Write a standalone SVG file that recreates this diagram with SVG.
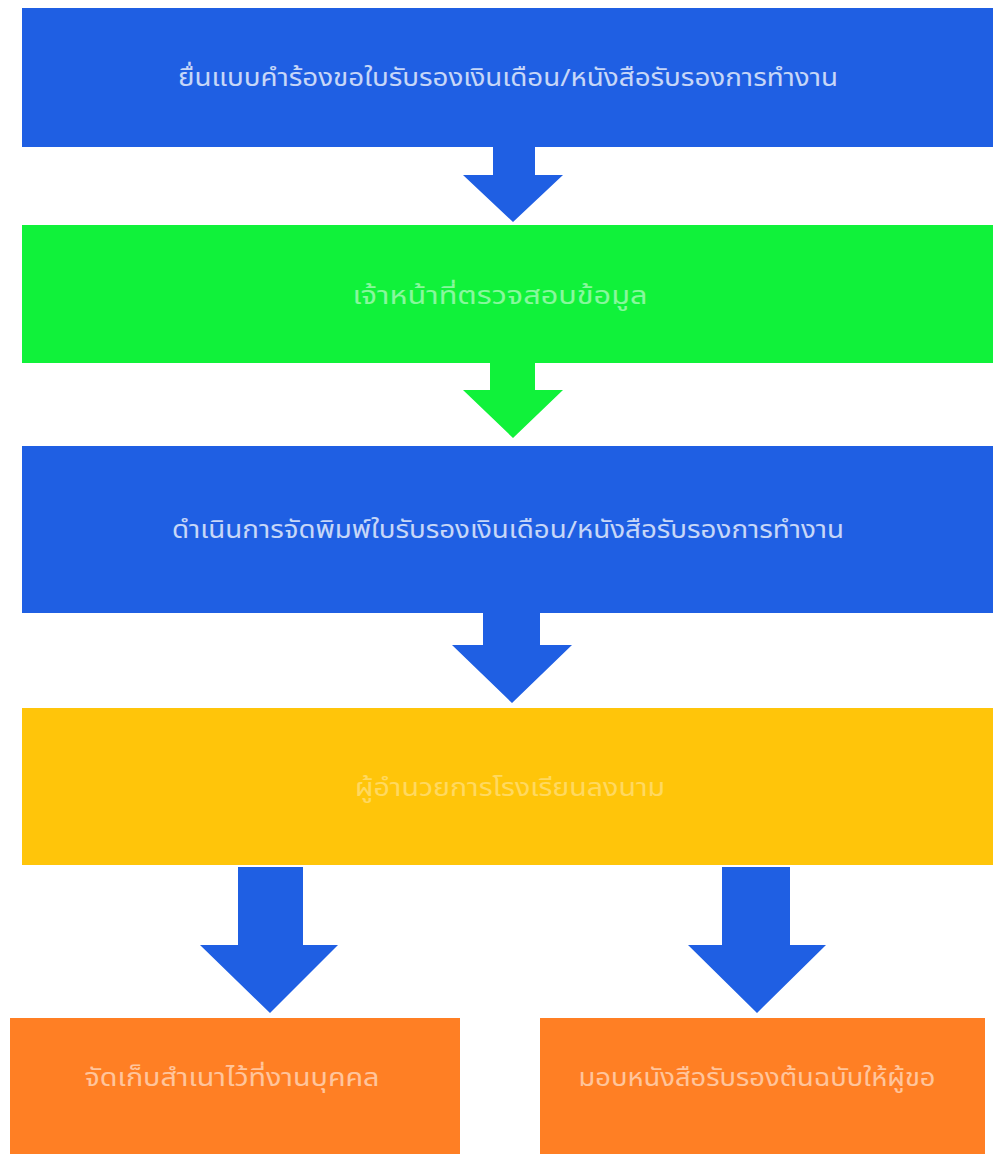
<svg xmlns="http://www.w3.org/2000/svg" width="993" height="1154" viewBox="0 0 993 1154">
<style>
.t{font-family:"Noto Sans Thai","Noto Sans","Liberation Sans",sans-serif;font-size:24px;fill:#ffffff;text-anchor:middle}
.blue{fill:#1f5fe3}
.green{fill:#10f23a}
.yellow{fill:#ffc50a}
.orange{fill:#ff7f24}
</style>
<rect width="993" height="1154" fill="#ffffff"/>
<g id="connectors">
<path class="blue" d="M493,147 H535 V175 H563 L513,222 L463,175 H493 Z"/>
<path class="green" d="M490,363 H535 V390 H563 L513,438 L463,390 H490 Z"/>
<path class="blue" d="M483,613 H540 V645 H572 L512,703 L452,645 H483 Z"/>
<path class="blue" d="M238,867 H303 V945 H338 L270,1013 L200,945 H238 Z"/>
<path class="blue" d="M722,867 H790 V945 H826 L757,1013 L688,945 H722 Z"/>
</g>
<g id="node1">
<rect class="blue" x="22" y="8" width="971" height="139"/>
<text class="t" x="508" y="86" opacity="0.75" textLength="660" lengthAdjust="spacingAndGlyphs">ยื่นแบบคำร้องขอใบรับรองเงินเดือน/หนังสือรับรองการทำงาน</text>
</g>
<g id="node2">
<rect class="green" x="22" y="225" width="971" height="138"/>
<text class="t" x="500" y="304" opacity="0.5" textLength="295" lengthAdjust="spacingAndGlyphs">เจ้าหน้าที่ตรวจสอบข้อมูล</text>
</g>
<g id="node3">
<rect class="blue" x="22" y="446" width="971" height="167"/>
<text class="t" x="508" y="538" opacity="0.75" textLength="672" lengthAdjust="spacingAndGlyphs">ดำเนินการจัดพิมพ์ใบรับรองเงินเดือน/หนังสือรับรองการทำงาน</text>
</g>
<g id="node4">
<rect class="yellow" x="22" y="708" width="971" height="157"/>
<text class="t" x="510" y="796" opacity="0.35" textLength="310" lengthAdjust="spacingAndGlyphs">ผู้อำนวยการโรงเรียนลงนาม</text>
</g>
<g id="node5">
<rect class="orange" x="10" y="1018" width="450" height="136"/>
<text class="t" x="232" y="1086" opacity="0.55" textLength="295" lengthAdjust="spacingAndGlyphs">จัดเก็บสำเนาไว้ที่งานบุคคล</text>
</g>
<g id="node6">
<rect class="orange" x="540" y="1018" width="445" height="136"/>
<text class="t" x="757" y="1086" opacity="0.55" textLength="357" lengthAdjust="spacingAndGlyphs">มอบหนังสือรับรองต้นฉบับให้ผู้ขอ</text>
</g>
</svg>
